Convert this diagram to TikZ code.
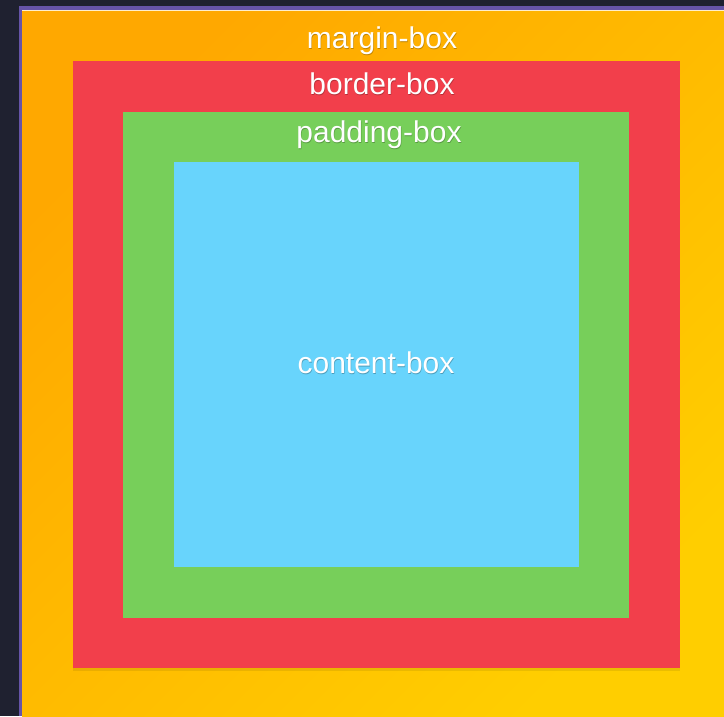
\documentclass[tikz,border=0pt]{standalone}
\usepackage{fontspec}
\setmainfont{Liberation Sans}
\usetikzlibrary{positioning,shadows}
\definecolor{pagebg}{HTML}{1F2130}
\definecolor{frameline}{HTML}{6654A8}
\definecolor{marginA}{HTML}{FFA800}
\definecolor{marginB}{HTML}{FFCE00}
\definecolor{borderred}{HTML}{F23F4B}
\definecolor{paddinggreen}{HTML}{77CF5A}
\definecolor{contentblue}{HTML}{68D4FC}

\begin{document}
\begin{tikzpicture}[x=1pt, y=-1pt,
  every node/.style={font=\fontsize{30}{33}\selectfont},
  area/.style={inner sep=0pt, outer sep=0pt},
  layer/.style={area, drop shadow={shadow xshift=0pt, shadow yshift=-3pt,
                opacity=0.08, fill=black}},
  tag/.style={text=white, anchor=base, inner sep=0pt},
  tagshadow/.style={text=black, opacity=0.25, anchor=base, inner sep=0pt}]

  % ---- page and frame ----
  \useasboundingbox (0,0) rectangle (724,716);
  \fill[pagebg] (0,0) rectangle (724,716);
  \fill[frameline] (19,6) rectangle (724,716);

  % ---- margin box (gradient) ----
  \begin{scope}
    \clip (22,10) rectangle (724,716);
    \shade[left color=marginA, right color=marginB, shading angle=45]
      (22,10) rectangle (731,719);
  \end{scope}
  \draw[white!80!marginA, line width=0.8pt] (22,10.4) -- (724,10.4);

  % ---- nested boxes ----
  \node[layer, fill=borderred, minimum width=607pt, minimum height=607pt]
    (border) at (376.5,364.5) {};
  \node[area, fill=paddinggreen, minimum width=506pt, minimum height=506pt]
    (padding) at (376,365) {};
  \node[area, fill=contentblue, minimum width=405pt, minimum height=405pt]
    (content) at (376.5,364.5) {};

  % ---- labels (with soft shadow) ----
  \foreach \name/\txt/\px/\py in {mg/margin-box/382/48, bd/border-box/382/94,
                                   pd/padding-box/379/142, ct/content-box/376/373}{
    \node[tagshadow] (\name-s) at (\px+0.5,\py+1.5) {\txt};
    \node[tag] (\name) at (\px,\py) {\txt};
  }
\end{tikzpicture}
\end{document}
